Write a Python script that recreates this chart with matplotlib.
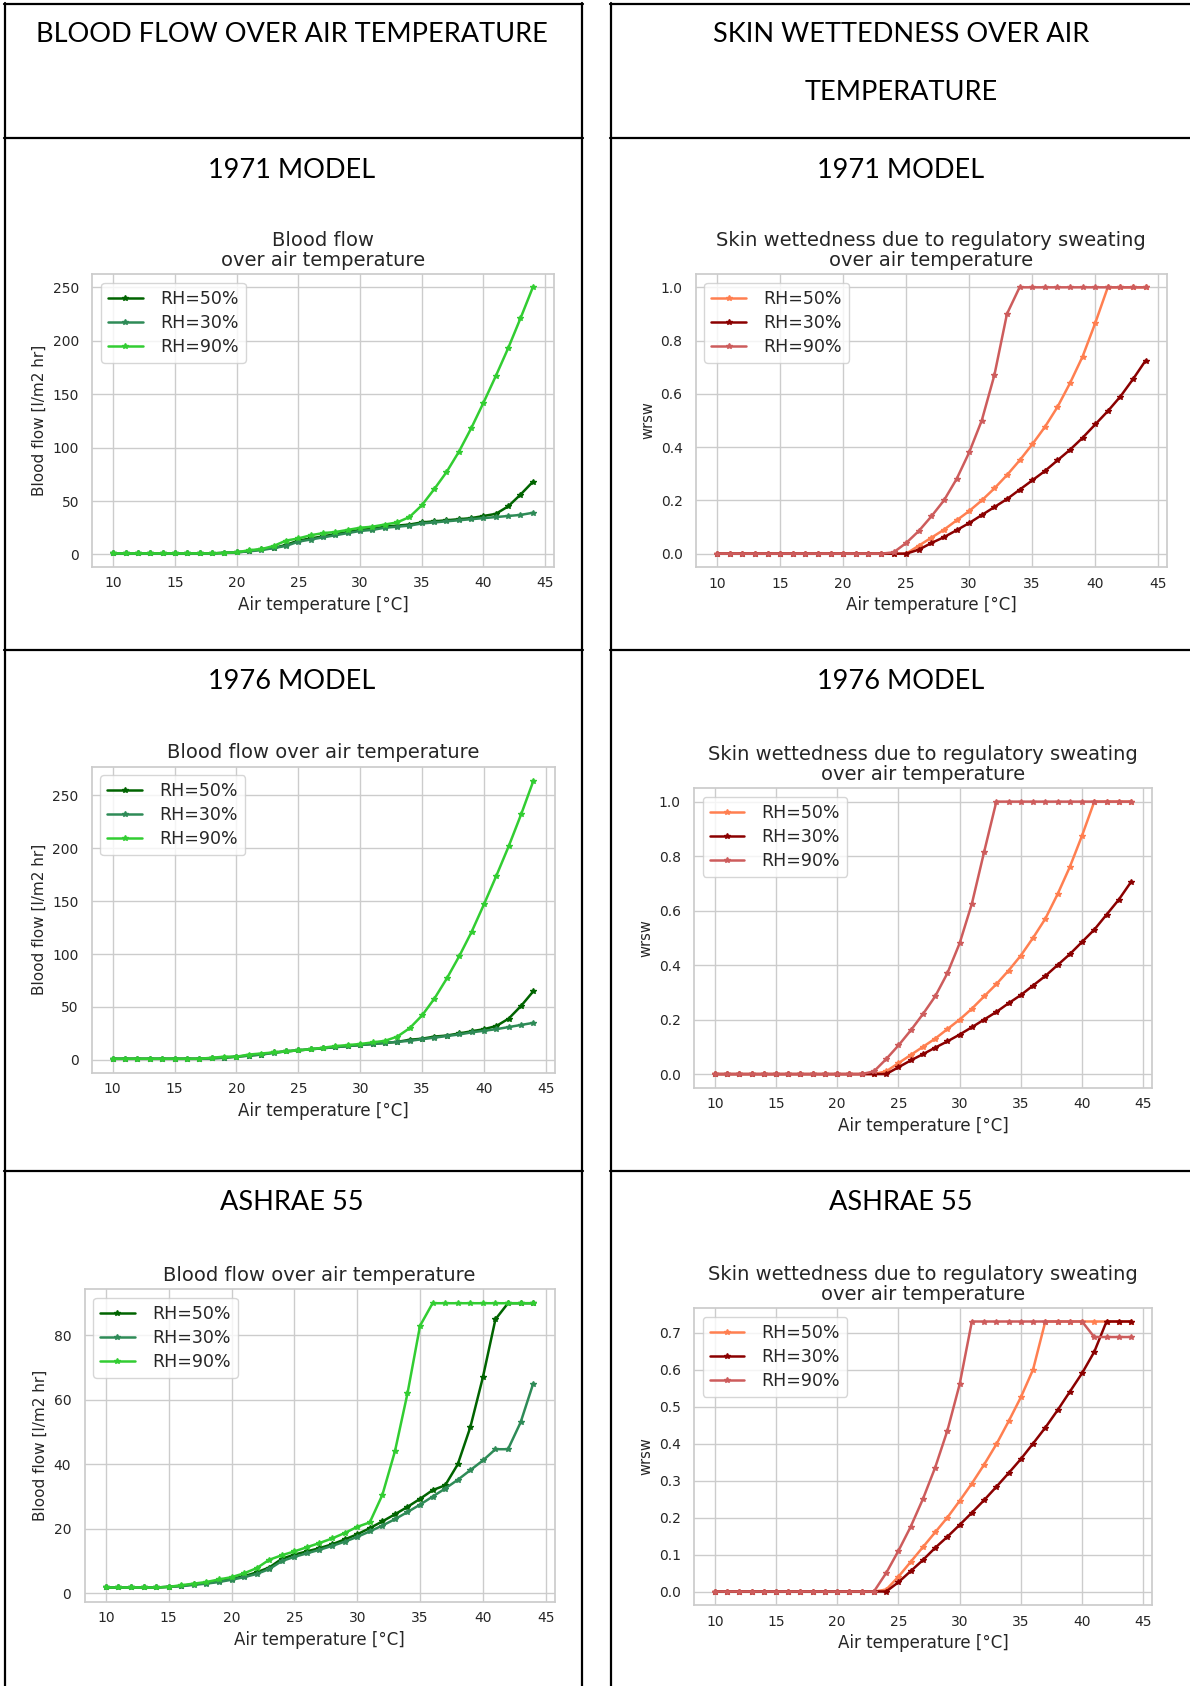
import matplotlib
matplotlib.use("Agg")
import matplotlib.pyplot as plt
from matplotlib.lines import Line2D
import seaborn as sns

# air temperature steps, 10..44 degC
temp = list(range(10, 45))

# 1971 model, blood flow [l/m2 hr]
bf71_rh50 = [1, 1, 1, 1, 1, 1, 1, 1, 1, 1.5, 2, 3, 5, 6, 9, 13, 15, 17, 19, 21,
             23, 24, 26, 27, 28, 30, 31, 32, 33, 34, 36, 38, 45, 56, 68]
bf71_rh30 = [1, 1, 1, 1, 1, 1, 1, 1, 1, 1.5, 2, 3, 4, 6, 8, 12, 14, 16, 18, 20,
             22, 23, 25, 26, 27, 29, 30, 31, 32, 33, 34, 35, 36, 37, 39]
bf71_rh90 = [1, 1, 1, 1, 1, 1, 1, 1, 1, 1.5, 2, 4, 5, 8, 13, 15, 18, 20, 21, 23,
             25, 26, 28, 30, 35, 46, 61, 77, 96, 118, 142, 167, 193, 221, 250]

# 1971 model, skin wettedness
w71_rh50 = [0] * 16 + [0.03, 0.06, 0.09, 0.125, 0.16, 0.2, 0.245, 0.295, 0.35,
                       0.41, 0.475, 0.55, 0.64, 0.74, 0.865, 1.0, 1.0, 1.0, 1.0]
w71_rh30 = [0] * 16 + [0.015, 0.04, 0.062, 0.088, 0.115, 0.145, 0.175, 0.205, 0.24,
                       0.275, 0.31, 0.35, 0.39, 0.435, 0.485, 0.535, 0.59, 0.655, 0.725]
w71_rh90 = [0] * 14 + [0.005, 0.04, 0.085, 0.14, 0.2, 0.28, 0.38, 0.5, 0.67, 0.9,
                       1.0, 1.0, 1.0, 1.0, 1.0, 1.0, 1.0, 1.0, 1.0, 1.0, 1.0]

# 1976 model, blood flow
bf76_rh50 = [1, 1, 1, 1, 1, 1, 1, 1, 1.5, 2, 3, 4, 5, 7, 8, 9, 10, 11, 12, 13,
             14, 15, 16, 17, 19, 20, 22, 23, 25, 27, 29, 32, 39, 51, 65]
bf76_rh30 = [1, 1, 1, 1, 1, 1, 1, 1, 1.5, 2, 3, 4, 5, 6.5, 8, 9, 10, 11, 12, 13,
             14, 15, 16, 17, 18, 19.5, 21, 22.5, 24, 26, 27.5, 29, 31, 33, 35]
bf76_rh90 = [1, 1, 1, 1, 1, 1, 1, 1, 2, 3, 3, 5, 6, 7, 8, 9, 10, 11.5, 13, 14,
             15, 16.5, 18, 22, 30, 42, 58, 77, 98, 121, 147, 174, 202, 232, 264]

# 1976 model, skin wettedness
w76_rh50 = [0] * 14 + [0.01, 0.04, 0.07, 0.1, 0.13, 0.165, 0.2, 0.24, 0.285, 0.33,
                       0.38, 0.435, 0.5, 0.57, 0.66, 0.76, 0.875, 1.0, 1.0, 1.0, 1.0]
w76_rh30 = [0] * 15 + [0.025, 0.05, 0.073, 0.097, 0.12, 0.145, 0.172, 0.2, 0.228, 0.26,
                       0.29, 0.325, 0.36, 0.4, 0.44, 0.485, 0.53, 0.585, 0.64, 0.705]
w76_rh90 = [0] * 13 + [0.01, 0.055, 0.105, 0.16, 0.22, 0.285, 0.37, 0.48, 0.625, 0.815,
                       1.0, 1.0, 1.0, 1.0, 1.0, 1.0, 1.0, 1.0, 1.0, 1.0, 1.0, 1.0]

# ASHRAE 55, blood flow
ba_rh50 = [1.8, 1.8, 1.8, 1.8, 1.8, 2, 2.3, 2.8, 3.2, 3.7, 4.5, 5.3, 6.5, 8, 10.7,
           12, 13, 14, 15.2, 16.7, 18.3, 20.2, 22.3, 24.5, 26.8, 29.3, 32, 33.5, 40,
           51.5, 67, 85, 90, 90, 90]
ba_rh30 = [1.8, 1.8, 1.8, 1.8, 1.8, 2, 2.2, 2.6, 3, 3.5, 4.2, 5, 6, 7.5, 10,
           11.3, 12.4, 13.5, 14.7, 16, 17.5, 19.2, 21, 23, 25.2, 27.5, 30, 32.5, 35.2,
           38.2, 41.2, 44.7, 44.7, 53, 65]
ba_rh90 = [1.8, 1.8, 1.8, 1.8, 1.8, 2, 2.5, 3, 3.5, 4.3, 5, 6.2, 7.8, 10.4, 11.8,
           13, 14.3, 15.6, 17, 18.7, 20.6, 22, 30.5, 44, 62, 83, 90, 90, 90,
           90, 90, 90, 90, 90, 90]

# ASHRAE 55, skin wettedness
wa_rh50 = [0] * 14 + [0.005, 0.04, 0.08, 0.12, 0.16, 0.2, 0.245, 0.292, 0.343, 0.398,
                      0.46, 0.525, 0.6, 0.73, 0.73, 0.73, 0.73, 0.73, 0.73, 0.73, 0.73]
wa_rh30 = [0] * 15 + [0.025, 0.055, 0.085, 0.118, 0.148, 0.18, 0.213, 0.247, 0.283, 0.32,
                      0.358, 0.4, 0.443, 0.49, 0.54, 0.59, 0.648, 0.73, 0.73, 0.73]
wa_rh90 = [0] * 14 + [0.05, 0.11, 0.175, 0.25, 0.335, 0.435, 0.56,
                      0.73, 0.73, 0.73, 0.73, 0.73, 0.73, 0.73, 0.73, 0.73, 0.73,
                      0.688, 0.688, 0.688, 0.688]

labels = ["RH=50%", "RH=30%", "RH=90%"]
greens = ["darkgreen", "seagreen", "limegreen"]
reds = ["coral", "darkred", "indianred"]

sns.set_theme(style="whitegrid")
plt.rcParams["font.family"] = ["DejaVu Sans"]
plt.rcParams["xtick.labelsize"] = 10
plt.rcParams["ytick.labelsize"] = 10
plt.rcParams["xtick.major.size"] = 3.5

W, H = 1190, 1686
fig = plt.figure(figsize=(W / 100, H / 100), dpi=100)


def rect(l, t, r, b):
    return [l / W, 1 - b / H, (r - l) / W, (b - t) / H]


def panel(box, series, colors, title, ylabel, ylsize):
    ax = fig.add_axes(rect(*box))
    for ys, c, lab in zip(series, colors, labels):
        ax.plot(temp, ys, color=c, marker="*", markersize=4, linewidth=1.8, label=lab)
    ax.set_title(title, fontsize=14, linespacing=1.05, color=".15")
    ax.set_xlabel("Air temperature [°C]", fontsize=12)
    ax.set_ylabel(ylabel, fontsize=ylsize)
    ax.legend(loc="upper left", fontsize=12.5, labelspacing=0.35,
              handletextpad=1.0, borderaxespad=0.5)
    return ax


bf_title2 = "Blood flow\nover air temperature"
bf_title = "Blood flow over air temperature"
w_title = "Skin wettedness due to regulatory sweating\nover air temperature"
bf_label = "Blood flow [l/m2 hr]"

panel((92.4, 274, 553.8, 566.7), [bf71_rh50, bf71_rh30, bf71_rh90], greens, bf_title2, bf_label, 11)
panel((695.7, 274, 1167, 567), [w71_rh50, w71_rh30, w71_rh90], reds, w_title, "wrsw", 10.5)
panel((91.7, 766.7, 554.5, 1072.7), [bf76_rh50, bf76_rh30, bf76_rh90], greens, bf_title, bf_label, 11)
panel((694, 788, 1151.8, 1087.7), [w76_rh50, w76_rh30, w76_rh90], reds, w_title, "wrsw", 10.5)
panel((84.5, 1289, 554.5, 1601.7), [ba_rh50, ba_rh30, ba_rh90], greens, bf_title, bf_label, 11)
panel((694, 1308, 1151.8, 1605), [wa_rh50, wa_rh30, wa_rh90], reds, w_title, "wrsw", 10.5)

# table borders around the cells
def hline(y, x0, x1):
    fig.add_artist(Line2D([x0 / W, x1 / W], [1 - y / H, 1 - y / H], color="black", linewidth=1.6))


def vline(x, y0, y1):
    fig.add_artist(Line2D([x / W, x / W], [1 - y0 / H, 1 - y1 / H], color="black", linewidth=1.6))


for y in [4, 138, 650, 1171]:
    hline(y, 4, 583)
    hline(y, 610, 1190)
for x in [5, 582, 611]:
    vline(x, 3, H)

head = dict(ha="center", va="center", fontsize=19.5, family=["Lato", "DejaVu Sans"], color="black")
fig.text(292 / W, 1 - 35 / H, "BLOOD FLOW OVER AIR TEMPERATURE", **head)
fig.text(901 / W, 1 - 35 / H, "SKIN WETTEDNESS OVER AIR", **head)
fig.text(901 / W, 1 - 92 / H, "TEMPERATURE", **head)
for y, name in [(170, "1971 MODEL"), (682, "1976 MODEL"), (1202, "ASHRAE 55")]:
    fig.text(292 / W, 1 - y / H, name, **head)
    fig.text(901 / W, 1 - y / H, name, **head)

fig.savefig("out.png", dpi=100)
